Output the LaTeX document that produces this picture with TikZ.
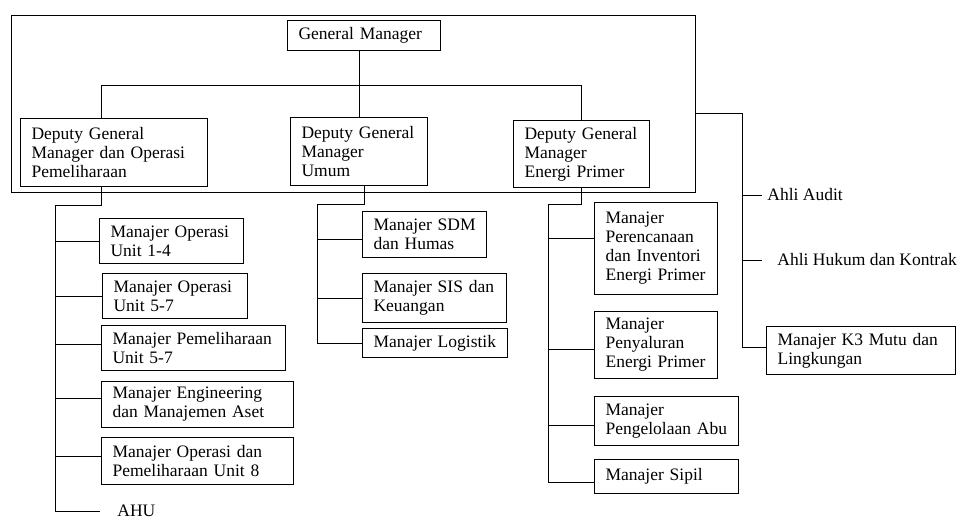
\documentclass[tikz,border=0pt]{standalone}
\usepackage{fontspec}
\setmainfont{Liberation Serif}
\begin{document}
\begin{tikzpicture}[x=1pt,y=-1pt,font=\fontsize{17.5}{19}\selectfont,line width=0.9pt,
  unit/.style={draw,line width=1.1pt,anchor=north west,align=left,inner xsep=11pt,inner ysep=1pt,text width=#1},
  role/.style={anchor=west,inner xsep=5pt,inner ysep=1pt}]
\useasboundingbox (0,0) rectangle (957,521);
\node[draw,anchor=north west,minimum width=684pt,minimum height=177pt,inner sep=0pt] (grp) at (11,15) {};
\node[unit=131pt,minimum height=30pt] (gm) at (287,20) {General Manager};
\node[unit=165pt,minimum height=68pt] (dgmA) at (20,118) {Deputy General\\Manager dan Operasi\\Pemeliharaan};
\node[unit=115pt,minimum height=68pt] (dgmB) at (290,117) {Deputy General\\Manager\\Umum};
\node[unit=114pt,minimum height=67pt] (dgmC) at (513,120) {Deputy General\\Manager\\Energi Primer};
\node[unit=122pt,minimum height=45pt] (opA) at (99,218) {Manajer Operasi\\Unit 1-4};
\node[unit=123pt,minimum height=45pt] (opB) at (102,273) {Manajer Operasi\\Unit 5-7};
\node[unit=162pt,minimum height=45pt] (pmB) at (101,325) {Manajer Pemeliharaan\\Unit 5-7};
\node[unit=170pt,minimum height=46pt] (eng) at (101,381) {Manajer Engineering\\dan Manajemen Aset};
\node[unit=170pt,minimum height=47pt] (op8) at (101,437) {Manajer Operasi dan\\Pemeliharaan Unit 8};
\node[role] (ahu) at (112,511) {AHU};
\node[unit=108pt,inner xsep=8pt,minimum height=46pt] (sdm) at (362,211) {\hspace{3pt}Manajer SDM\\\hspace{3pt}dan Humas};
\node[unit=122pt,minimum height=49pt] (sis) at (362,273) {Manajer SIS dan\\Keuangan};
\node[unit=123pt,minimum height=29pt] (logi) at (362,328) {Manajer Logistik};
\node[unit=101pt,minimum height=92pt] (plan) at (594,202) {Manajer\\Perencanaan\\dan Inventori\\Energi Primer};
\node[unit=101pt,minimum height=67pt] (dist) at (594,311) {Manajer\\Penyaluran\\Energi Primer};
\node[unit=122pt,minimum height=49pt] (ash) at (594,396) {Manajer\\Pengelolaan Abu};
\node[unit=122pt,minimum height=34pt] (civil) at (594,459) {Manajer Sipil};
\node[role] (audit) at (762,195) {Ahli Audit};
\node[role] (law) at (772,260) {Ahli Hukum dan Kontrak};
\node[unit=167pt,minimum height=48pt] (k3) at (766,326) {Manajer K3 Mutu dan\\Lingkungan};
\coordinate (bus) at (0,85);
\coordinate (lt) at (55,205);
\coordinate (mt) at (317,204);
\coordinate (rt) at (548,204);
\coordinate (st) at (742,113);
\draw (dgmB.north) -- (dgmB.north |- gm.south);
\draw ([xshift=-12.5pt]dgmA.north) -- ([xshift=-12.5pt]dgmA.north |- bus) -- (dgmC.north |- bus) -- (dgmC.north);
\draw ([xshift=-12.5pt]dgmA.south) |- (lt) -- (lt |- ahu.west) -- ([xshift=-12pt]ahu.west);
\draw (lt |- opA.west) -- (opA.west);
\draw (lt |- opB.west) -- (opB.west);
\draw ([yshift=4pt]lt |- pmB.west) -- ([yshift=4pt]pmB.west);
\draw ([yshift=6pt]lt |- eng.west) -- ([yshift=6pt]eng.west);
\draw ([yshift=5pt]lt |- op8.west) -- ([yshift=5pt]op8.west);
\draw ([xshift=5.5pt]dgmB.south) |- (mt) -- (mt |- logi.west) -- (logi.west);
\draw ([yshift=-5pt]mt |- sdm.west) -- ([yshift=-5pt]sdm.west);
\draw (mt |- sis.west) -- (sis.west);
\draw (dgmC.south) |- (rt) -- ([yshift=-6pt]rt |- civil.west) -- ([yshift=-6pt]civil.west);
\draw ([yshift=10pt]rt |- plan.west) -- ([yshift=10pt]plan.west);
\draw ([yshift=-4pt]rt |- dist.west) -- ([yshift=-4pt]dist.west);
\draw ([yshift=-4pt]rt |- ash.west) -- ([yshift=-4pt]ash.west);
\draw (grp.east |- st) -- (st) -- ([yshift=3pt]st |- k3.west) -- ([yshift=3pt]k3.west);
\draw (st |- audit.west) -- (audit.west);
\draw (st |- law.west) -- ([xshift=-10pt]law.west);
\end{tikzpicture}
\end{document}
